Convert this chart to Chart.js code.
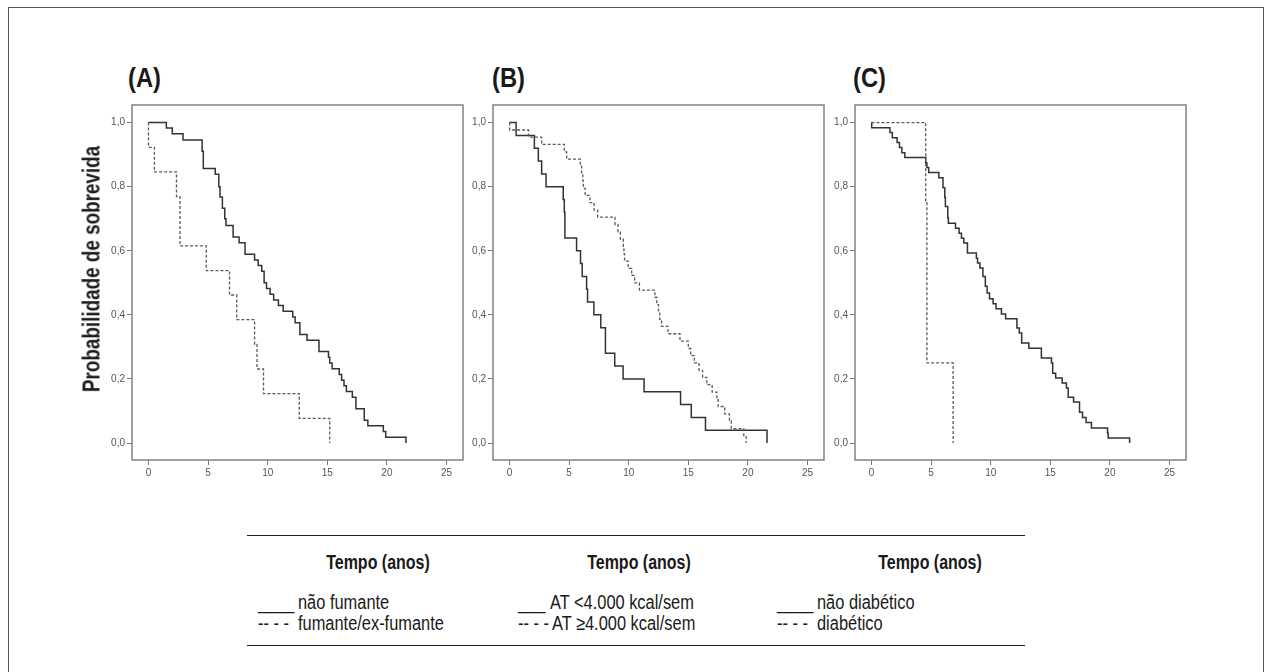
<!DOCTYPE html>
<html>
<head>
<meta charset="utf-8">
<script src="https://cdn.jsdelivr.net/npm/chart.js@4.4.1/dist/chart.umd.min.js"></script>
<style>
  html, body { margin: 0; padding: 0; background: #fff; }
  #page { position: relative; width: 1269px; height: 672px; overflow: hidden; background: #fff; }
  #frame { position: absolute; left: 8px; top: 7px; width: 1256px; height: 690px; border: 1.5px solid #555; box-sizing: border-box; }
  canvas { position: absolute; }
  .t { position: absolute; font-family: "Liberation Sans", Arial, sans-serif; color: #1a1a1a; white-space: nowrap; line-height: 1; }
  .panel { font-size: 27px; font-weight: bold; transform-origin: left center; transform: translateY(-50%) scaleX(0.88); }
  .ytitle { font-size: 23px; font-weight: bold; transform: translate(-50%, -50%) rotate(-90deg) scaleX(0.82); }
  .head { font-size: 19.5px; font-weight: bold; transform: translate(-50%, -50%) scaleX(0.82); }
  .row { font-size: 20px; transform-origin: left center; transform: translateY(-50%) scaleX(0.82); }
  .rule { position: absolute; left: 247px; width: 778px; height: 0; border-top: 1.5px solid #222; }
</style>
</head>
<body>
<div id="page">
  <div id="frame"></div>
  <canvas id="cA" width="376" height="390" style="left:92px;top:95px"></canvas>
  <canvas id="cB" width="376" height="390" style="left:453px;top:95px"></canvas>
  <canvas id="cC" width="376" height="390" style="left:815px;top:95px"></canvas>

  <div class="t panel" style="left:128px;top:78px">(A)</div>
  <div class="t panel" style="left:492px;top:78px">(B)</div>
  <div class="t panel" style="left:853px;top:78px">(C)</div>

  <div class="t ytitle" style="left:92px;top:269px">Probabilidade de sobrevida</div>

  <div class="rule" style="top:535px"></div>
  <div class="rule" style="top:645px"></div>

  <div class="t head" style="left:378px;top:563px">Tempo (anos)</div>
  <div class="t head" style="left:639px;top:563px">Tempo (anos)</div>
  <div class="t head" style="left:930px;top:563px">Tempo (anos)</div>

  <div class="t row" style="left:258px;top:602px">____</div>
  <div class="t row" style="left:298px;top:602px">não fumante</div>
  <div class="t row" style="left:258px;top:623px">-- - -</div>
  <div class="t row" style="left:298px;top:623px">fumante/ex-fumante</div>

  <div class="t row" style="left:518px;top:602px">___</div>
  <div class="t row" style="left:550px;top:602px">AT &lt;4.000 kcal/sem</div>
  <div class="t row" style="left:518px;top:623px">-- - -</div>
  <div class="t row" style="left:552px;top:623px">AT ≥4.000 kcal/sem</div>

  <div class="t row" style="left:777px;top:602px">____</div>
  <div class="t row" style="left:817px;top:602px">não diabético</div>
  <div class="t row" style="left:777px;top:623px">-- - -</div>
  <div class="t row" style="left:817px;top:623px">diabético</div>
</div>

<script>
// ---- tick labels ----
const X_TICKS = [0, 5, 10, 15, 20, 25];
const Y_TICKS = [0, 0.2, 0.4, 0.6, 0.8, 1.0];

// ---- (A) smoking ----
const A_NONSMOKER_T = [0, 1.5, 2.0, 2.9, 4.5, 4.6, 5.6, 5.9, 6.0, 6.2, 6.4, 6.5, 7.1, 7.6, 8.1, 8.9, 9.2, 9.5, 9.7, 9.9, 10.2, 10.5, 10.9, 11.3, 12.1, 12.3, 12.7, 13.3, 14.3, 15.1, 15.2, 15.4, 16.0, 16.2, 16.4, 16.6, 17.1, 17.4, 18.1, 18.4, 19.7, 19.9, 21.6];
const A_NONSMOKER_S = [1, 0.983, 0.965, 0.946, 0.911, 0.857, 0.839, 0.80, 0.768, 0.733, 0.70, 0.679, 0.643, 0.625, 0.589, 0.571, 0.554, 0.536, 0.500, 0.482, 0.464, 0.446, 0.429, 0.411, 0.393, 0.375, 0.339, 0.321, 0.286, 0.268, 0.250, 0.232, 0.214, 0.196, 0.179, 0.161, 0.143, 0.107, 0.071, 0.054, 0.036, 0.018, 0];
const A_SMOKER_T = [0, 0, 0.5, 2.35, 2.65, 4.85, 6.8, 7.4, 8.9, 9.1, 9.65, 12.65, 15.2];
const A_SMOKER_S = [1, 0.923, 0.846, 0.769, 0.615, 0.538, 0.462, 0.385, 0.308, 0.231, 0.154, 0.077, 0];

// ---- (B) physical activity ----
const B_LOW_T = [0, 0.56, 2.09, 2.42, 2.7, 3.07, 4.51, 4.6, 4.65, 5.63, 5.96, 6.1, 6.47, 6.55, 7.08, 7.66, 8.05, 8.83, 9.53, 11.29, 14.35, 15.25, 16.44, 21.6];
const B_LOW_S = [1, 0.96, 0.92, 0.88, 0.84, 0.80, 0.76, 0.72, 0.64, 0.60, 0.56, 0.52, 0.48, 0.44, 0.40, 0.36, 0.28, 0.24, 0.20, 0.16, 0.12, 0.08, 0.04, 0];
const B_HIGH_T = [0, 0.02, 1.6, 2.7, 4.6, 4.8, 5.95, 6.05, 6.15, 6.2, 6.35, 6.75, 7.1, 7.4, 8.85, 9.1, 9.3, 9.55, 9.6, 9.65, 9.95, 10.25, 10.5, 10.9, 12.2, 12.35, 12.5, 12.6, 12.75, 13.3, 14.3, 15.0, 15.2, 15.5, 15.9, 16.2, 16.55, 17.0, 17.4, 17.5, 18.05, 18.45, 18.6, 19.65, 19.85];
const B_HIGH_S = [1, 0.977, 0.955, 0.932, 0.909, 0.886, 0.864, 0.841, 0.818, 0.795, 0.773, 0.750, 0.727, 0.705, 0.682, 0.659, 0.636, 0.614, 0.591, 0.568, 0.545, 0.523, 0.5, 0.477, 0.455, 0.432, 0.409, 0.386, 0.364, 0.341, 0.318, 0.295, 0.273, 0.25, 0.227, 0.205, 0.182, 0.159, 0.136, 0.114, 0.091, 0.068, 0.045, 0.023, 0];

// ---- (C) diabetes ----
const C_NONDIAB_T = [0, 0.02, 1.55, 1.75, 2.15, 2.35, 2.55, 2.8, 4.55, 4.65, 4.8, 5.65, 6.0, 6.15, 6.2, 6.4, 6.45, 7.05, 7.35, 7.55, 7.75, 8.05, 8.8, 8.9, 9.1, 9.35, 9.55, 9.7, 9.9, 10.2, 10.45, 10.9, 11.25, 12.2, 12.4, 12.6, 13.2, 14.25, 15.1, 15.2, 15.45, 16.0, 16.35, 16.5, 16.95, 17.45, 17.7, 18.0, 18.45, 19.8, 19.85, 21.65];
const C_NONDIAB_S = [1, 0.984, 0.969, 0.953, 0.938, 0.922, 0.906, 0.891, 0.875, 0.86, 0.844, 0.828, 0.797, 0.766, 0.738, 0.703, 0.686, 0.67, 0.655, 0.639, 0.624, 0.593, 0.577, 0.562, 0.546, 0.52, 0.489, 0.468, 0.45, 0.435, 0.419, 0.403, 0.388, 0.359, 0.343, 0.312, 0.296, 0.265, 0.25, 0.218, 0.203, 0.187, 0.172, 0.143, 0.128, 0.096, 0.08, 0.064, 0.047, 0.031, 0.016, 0];
const C_DIAB_T = [0, 4.55, 4.65, 6.85];
const C_DIAB_S = [1, 0.75, 0.25, 0];

const FONT = '"Liberation Sans", Arial, sans-serif';

const framePlugin = {
  id: 'plotFrame',
  beforeDatasetsDraw(chart) {
    const { ctx, chartArea: a } = chart;
    ctx.save();
    ctx.strokeStyle = '#8a8a8a';
    ctx.lineWidth = 1.6;
    ctx.strokeRect(a.left, a.top, a.right - a.left, a.bottom - a.top);
    ctx.restore();
  }
};

function pts(T, S) { return T.map((t, i) => ({ x: t, y: S[i] })); }

function makeChart(id, solidT, solidS, dashT, dashS) {
  const ctx = document.getElementById(id).getContext('2d');
  return new Chart(ctx, {
    type: 'line',
    data: {
      datasets: [
        { data: pts(dashT, dashS), stepped: 'before', borderColor: '#5a5a5a', borderWidth: 1.3, borderDash: [3, 2], pointRadius: 0, fill: false },
        { data: pts(solidT, solidS), stepped: 'before', borderColor: '#333', borderWidth: 1.5, pointRadius: 0, fill: false }
      ]
    },
    options: {
      responsive: false,
      animation: false,
      devicePixelRatio: 1,
      layout: { padding: { top: 10, right: 5, left: 0, bottom: 0 } },
      plugins: { legend: { display: false }, tooltip: { enabled: false } },
      scales: {
        x: {
          type: 'linear', min: -1.38, max: 26.38,
          afterBuildTicks: s => { s.ticks = X_TICKS.map(v => ({ value: v })); },
          afterFit: s => { s.height = 25; },
          grid: { drawOnChartArea: false, drawTicks: true, tickLength: 5, color: '#777', lineWidth: 1 },
          border: { display: false },
          ticks: { font: { size: 10, family: FONT }, color: '#555', padding: 2, maxRotation: 0, autoSkip: false, callback: v => String(v) }
        },
        y: {
          type: 'linear', min: -0.053, max: 1.055,
          afterBuildTicks: s => { s.ticks = Y_TICKS.map(v => ({ value: v })); },
          afterFit: s => { s.width = 40; },
          grid: { drawOnChartArea: false, drawTicks: true, tickLength: 5, color: '#777', lineWidth: 1 },
          border: { display: false },
          ticks: { font: { size: 10, family: FONT }, color: '#555', padding: 2, autoSkip: false, callback: v => Number(v).toFixed(1).replace('.', ',') }
        }
      }
    },
    plugins: [framePlugin]
  });
}

makeChart('cA', A_NONSMOKER_T, A_NONSMOKER_S, A_SMOKER_T, A_SMOKER_S);
makeChart('cB', B_LOW_T, B_LOW_S, B_HIGH_T, B_HIGH_S);
makeChart('cC', C_NONDIAB_T, C_NONDIAB_S, C_DIAB_T, C_DIAB_S);
</script>
</body>
</html>
